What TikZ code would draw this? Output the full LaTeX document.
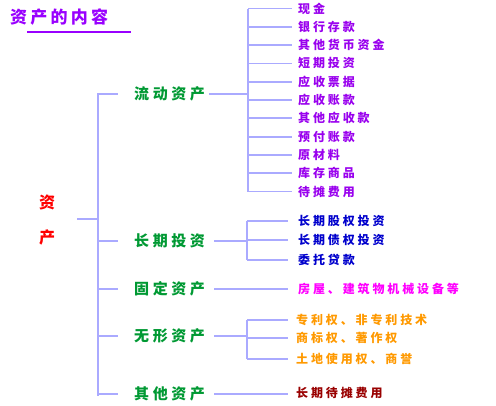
\documentclass[tikz,border=0pt]{standalone}
\usepackage{fontspec}
\usepackage{tikz}
\usetikzlibrary{calc}
\newfontfamily\cjk{Noto Sans CJK SC}[LetterSpace=24]
\newfontfamily\cjktitle{Noto Sans CJK SC}[LetterSpace=19]
\definecolor{linkblue}{HTML}{AAAAFF}
\definecolor{titlepurple}{HTML}{9900FF}
\definecolor{leafpurple}{HTML}{9900EE}
\definecolor{groupgreen}{HTML}{009933}
\definecolor{leafblue}{HTML}{0000CC}
\definecolor{leafmagenta}{HTML}{FF00FF}
\definecolor{leaforange}{HTML}{FF9900}
\definecolor{leafdarkred}{HTML}{990000}

\begin{document}
\begin{tikzpicture}[
    x=1pt, y=-1pt,
    link/.style={draw=linkblue, line width=1.8pt},
    group/.style={anchor=west, inner sep=0pt, text=groupgreen, font=\cjk\bfseries\fontsize{15}{15}\selectfont},
    leaf/.style={anchor=west, inner sep=0pt, font=\cjk\bfseries\fontsize{12}{12}\selectfont},
    rootchar/.style={inner sep=0pt, text=red, font=\cjk\bfseries\fontsize{16}{16}\selectfont}
]
  \useasboundingbox (0,0) rectangle (496,405);
  % title
  \node[anchor=west, inner sep=0pt, text=titlepurple, font=\cjktitle\bfseries\fontsize{17}{17}\selectfont] (title) at (10,17) {资产的内容};
  \coordinate (ul1) at (27,32);
  \coordinate (ul2) at (131,32);
  \draw[titlepurple, line width=1.5pt] (ul1) -- (ul2);

  % root
  \node[rootchar] (root1) at (47,203) {资};
  \node[rootchar] (root2) at (47,237) {产};
  \coordinate (rootend) at (77,219);
  \coordinate (spine) at (98,219);
  \coordinate (spinetop) at (98,93);
  \coordinate (spinebot) at (98,395.5);
  \draw[link] (rootend) -- (spine);
  \draw[link] (spinetop) -- (spinebot);

  % groups
  \foreach \name/\y/\txt in {g1/94/流动资产, g2/241/长期投资, g3/289/固定资产, g4/336/无形资产, g5/394/其他资产} {
    \node[group] (\name) at (134,\y) {\txt};
    \draw[link, shorten >=16pt] (spine |- \name) -- (\name.west);
  }

  % current assets
  \coordinate (j1) at (248,92);
  \draw[link, shorten <=4pt] (g1.east) -- (g1.east -| j1);
  \foreach \txt [count=\i from 0] in {现金, 银行存款, 其他货币资金, 短期投资, 应收票据, 应收账款, 其他应收款, 预付账款, 原材料, 库存商品, 待摊费用} {
    \node[leaf, text=leafpurple] (a\i) at (298,{8.5+18.3*\i}) {\txt};
    \draw[link, shorten >=6pt] (j1 |- a\i) -- (a\i.west);
  }
  \draw[link] (j1 |- a0) -- (j1 |- a10);

  % long-term investment
  \coordinate (j2) at (247,240);
  \draw[link, shorten <=9pt] (g2.east) -- (g2.east -| j2);
  \foreach \txt/\y [count=\i] in {长期股权投资/221, 长期债权投资/240, 委托贷款/260} {
    \node[leaf, text=leafblue] (b\i) at (298,\y) {\txt};
    \draw[link, shorten >=10pt] (j2 |- b\i) -- (b\i.west);
  }
  \draw[link] (j2 |- b1) -- (j2 |- b3);

  % fixed assets
  \node[leaf, text=leafmagenta] (c1) at (298,289) {房屋、建筑物机械设备等};
  \draw[link, shorten <=9pt, shorten >=10pt] (g3.east) -- (g3.east -| c1.west);

  % intangible assets
  \coordinate (j4) at (247,338);
  \draw[link, shorten <=9pt] (g4.east) -- (g4.east -| j4);
  \foreach \txt/\y [count=\i] in {专利权、非专利技术/320, 商标权、著作权/338, 土地使用权、商誉/359} {
    \node[leaf, text=leaforange] (d\i) at (296,\y) {\txt};
    \draw[link, shorten >=8pt] (j4 |- d\i) -- (d\i.west);
  }
  \draw[link] (j4 |- d1) -- (j4 |- d3);

  % other assets
  \node[leaf, text=leafdarkred] (e1) at (296,393) {长期待摊费用};
  \draw[link, shorten <=9pt, shorten >=8pt] (g5.east) -- (g5.east -| e1.west);
\end{tikzpicture}
\end{document}
